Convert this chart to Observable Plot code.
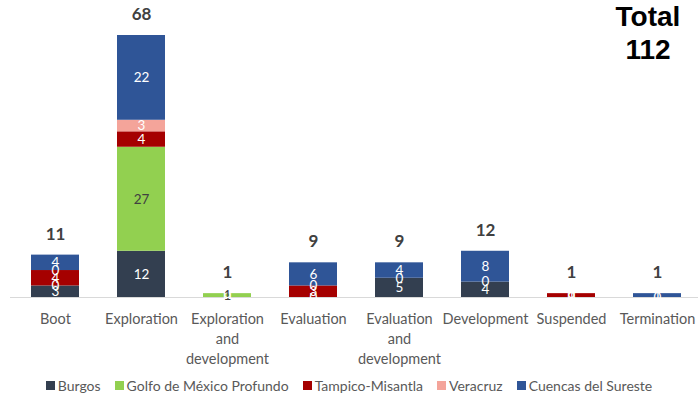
<!DOCTYPE html>
<html>
<head>
<meta charset="utf-8">
<script src="https://cdn.jsdelivr.net/npm/d3@7"></script>
<script src="https://cdn.jsdelivr.net/npm/@observablehq/plot@0.6"></script>
<style>
  body { margin: 0; background: #fff; font-family: Lato, "Open Sans", sans-serif; }
  #wrap { position: relative; width: 698px; height: 400px; overflow: hidden; }
  #total { position: absolute; left: 598px; top: 0px; width: 100px; text-align: center;
           font-family: "Liberation Sans", Arial, sans-serif; font-weight: bold; font-size: 28px; line-height: 33px; color: #000; }
  #legend { position: absolute; left: 0; top: 377px; width: 698px; display: flex; justify-content: center; gap: 14px;
            font-size: 14px; color: #595959; }
  .item { display: flex; align-items: center; gap: 3px; }
  .sw { width: 9px; height: 9px; display: inline-block; }
</style>
</head>
<body>
<div id="wrap">
  <div id="chart"></div>
  <div id="total">Total<br>112</div>
  <div id="legend"></div>
</div>
<script>
const categories = ["Boot", "Exploration", "Exploration and development", "Evaluation",
  "Evaluation and development", "Development", "Suspended", "Termination"];
const tickLabels = ["Boot", "Exploration", "Exploration\nand\ndevelopment", "Evaluation",
  "Evaluation\nand\ndevelopment", "Development", "Suspended", "Termination"];
const series = ["Burgos", "Golfo de México Profundo", "Tampico-Misantla", "Veracruz", "Cuencas del Sureste"];
const colors = ["#333F50", "#92D050", "#A50000", "#F4A49A", "#2F5597"];
const burgos   = [3, 12, 0, 0, 5, 4, 0, 0];
const golfo    = [0, 27, 1, 0, 0, 0, 0, 0];
const tampico  = [4, 4, 0, 3, 0, 0, 1, 0];
const veracruz = [0, 3, 0, 0, 0, 0, 0, 0];
const cuencas  = [4, 22, 0, 6, 4, 8, 0, 1];
const totals   = [11, 68, 1, 9, 9, 12, 1, 1];

const valuesBySeries = [burgos, golfo, tampico, veracruz, cuencas];
const data = [];
series.forEach((s, i) => categories.forEach((c, j) => data.push({category: c, series: s, value: valuesBySeries[i][j]})));
const totalData = categories.map((c, j) => ({category: c, total: totals[j]}));
const labelMap = new Map(categories.map((c, i) => [c, tickLabels[i]]));

// segment labels: zero labels that fall at the same stack position as another zero are drawn once
const labelData = [];
categories.forEach((c, j) => {
  let cum = 0;
  const seenZero = new Set();
  series.forEach((s, i) => {
    const v = valuesBySeries[i][j];
    const pos = cum + v / 2;
    cum += v;
    if (v === 0) {
      if (seenZero.has(pos)) return;
      seenZero.add(pos);
    }
    labelData.push({category: c, series: s, value: v, pos});
  });
});

const chart = Plot.plot({
  width: 698,
  height: 372,
  marginTop: 35,
  marginBottom: 75,
  marginLeft: 10,
  marginRight: 0,
  style: {fontFamily: "Lato, 'Open Sans', sans-serif", background: "#fff"},
  x: {domain: categories, range: [10, 701], paddingInner: 0.445, paddingOuter: 0.2225, axis: null},
  y: {domain: [0, 68], axis: null},
  color: {domain: series, range: colors},
  marks: [
    Plot.barY(data, {x: "category", y: "value", fill: "series", order: series}),
    Plot.ruleY([0], {stroke: "#D9D9D9", strokeWidth: 1}),
    Plot.text(labelData, {x: "category", y: "pos",
      text: d => String(d.value),
      fill: d => (d.series === "Golfo de México Profundo" && d.value > 0) ? "#404040" : "#fff",
      fontSize: 13.5}),
    Plot.text(totalData, {x: "category", y: "total", text: d => String(d.total), dy: -21,
      fontSize: 17, fontWeight: "bold", fill: "#404040"}),
    Plot.text(categories, {x: d => d, y: 0, text: d => labelMap.get(d), dy: 12, lineAnchor: "top",
      lineHeight: 1.38, fontSize: 14.5, fill: "#595959"})
  ]
});
document.getElementById("chart").appendChild(chart);

const legend = document.getElementById("legend");
series.forEach((s, i) => {
  const it = document.createElement("span");
  it.className = "item";
  it.innerHTML = `<span class="sw" style="background:${colors[i]}"></span><span>${s}</span>`;
  legend.appendChild(it);
});
</script>
</body>
</html>
